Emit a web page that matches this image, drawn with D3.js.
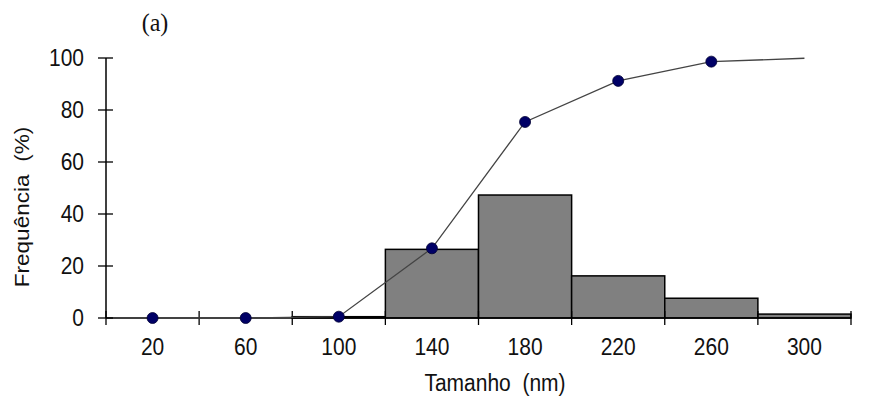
<!DOCTYPE html>
<html><head><meta charset="utf-8">
<script src="https://cdn.jsdelivr.net/npm/d3@7"></script>
<style>body{margin:0;background:#fff;} svg{display:block;}</style>
</head><body>
<script>
const categories = ["20","60","100","140","180","220","260","300"];
const histValues = [0, 0, 0.5, 26.4, 47.3, 16.2, 7.6, 1.5];
const cumValues = [0, 0, 0.5, 26.8, 75.4, 91.2, 98.6, 99.9];
const cumMarkers = [true, true, true, true, true, true, true, false];
const yTicks = [0, 20, 40, 60, 80, 100];

const W = 871, H = 398;
const SY = 1.13;
const svg = d3.select("body").append("svg").attr("width", W).attr("height", H);
const x = d3.scaleBand().domain(categories).range([106, 851]).padding(0);
const y = d3.scaleLinear().domain([0, 100]).range([318, 58]);
const font = "Liberation Sans, Arial, sans-serif";

// bars
svg.append("g").selectAll("rect").data(categories).join("rect")
  .attr("x", d => x(d)).attr("width", x.bandwidth())
  .attr("y", (d,i) => y(histValues[i])).attr("height", (d,i) => y(0) - y(histValues[i]))
  .attr("fill", "#808080").attr("stroke", "#000").attr("stroke-width", 1.5);

// x axis
const xAxis = svg.append("g").attr("transform", `translate(0,${y(0)})`);
xAxis.append("line").attr("x1", 106).attr("x2", 851).attr("stroke", "#000").attr("stroke-width", 1.5);
const bounds = categories.map(c => x(c)).concat([x(categories[categories.length-1]) + x.bandwidth()]);
xAxis.selectAll("line.t").data(bounds).join("line").attr("class","t")
  .attr("x1", d => d).attr("x2", d => d).attr("y1", -7).attr("y2", 7)
  .attr("stroke", "#000").attr("stroke-width", 1.3);
xAxis.selectAll("text").data(categories).join("text")
  .attr("transform", d => `translate(${x(d) + x.bandwidth()/2},37) scale(1,${SY})`)
  .attr("text-anchor", "middle").attr("font-family", font).attr("font-size", 21)
  .attr("fill", "#111").text(d => d);

// y axis
const yAxis = svg.append("g").attr("transform", "translate(106,0)");
yAxis.append("line").attr("y1", y(0)).attr("y2", y(100)).attr("stroke", "#000").attr("stroke-width", 1.5);
yAxis.selectAll("line.t").data(yTicks).join("line").attr("class","t")
  .attr("x1", -8).attr("x2", 7).attr("y1", d => y(d)).attr("y2", d => y(d))
  .attr("stroke", "#000").attr("stroke-width", 1.3);
yAxis.selectAll("text").data(yTicks).join("text")
  .attr("transform", d => `translate(-22,${y(d)}) scale(1,${SY})`).attr("dy", "0.35em")
  .attr("text-anchor", "end").attr("font-family", font).attr("font-size", 21)
  .attr("fill", "#111").text(d => d);

// cumulative line
const line = d3.line().x((d,i) => x(categories[i]) + x.bandwidth()/2).y(d => y(d));
svg.append("path").datum(cumValues).attr("d", line)
  .attr("fill", "none").attr("stroke", "#444").attr("stroke-width", 1.3);
svg.append("g").selectAll("circle").data(cumValues.map((v,i)=>({v,i})).filter(d => cumMarkers[d.i])).join("circle")
  .attr("cx", d => x(categories[d.i]) + x.bandwidth()/2).attr("cy", d => y(d.v)).attr("r", 5.5)
  .attr("fill", "#000066").attr("stroke", "#000033").attr("stroke-width", 0.8);

// labels
svg.append("text").attr("transform", "translate(155,31) scale(1,1.05)").attr("text-anchor", "middle")
  .attr("font-family", "Liberation Serif, Times New Roman, serif").attr("font-size", 24)
  .attr("fill", "#111").text("(a)");
svg.append("text").attr("transform", `translate(495,391) scale(1,${SY})`).attr("text-anchor", "middle")
  .attr("font-family", font).attr("font-size", 21).attr("fill", "#111")
  .style("white-space", "pre").text("Tamanho  (nm)");
svg.append("text").attr("transform", `translate(29,207) scale(1,${SY}) rotate(-90)`).attr("text-anchor", "middle")
  .attr("font-family", font).attr("font-size", 20).attr("fill", "#111")
  .style("white-space", "pre").text("Frequência  (%)");
</script>
</body></html>
